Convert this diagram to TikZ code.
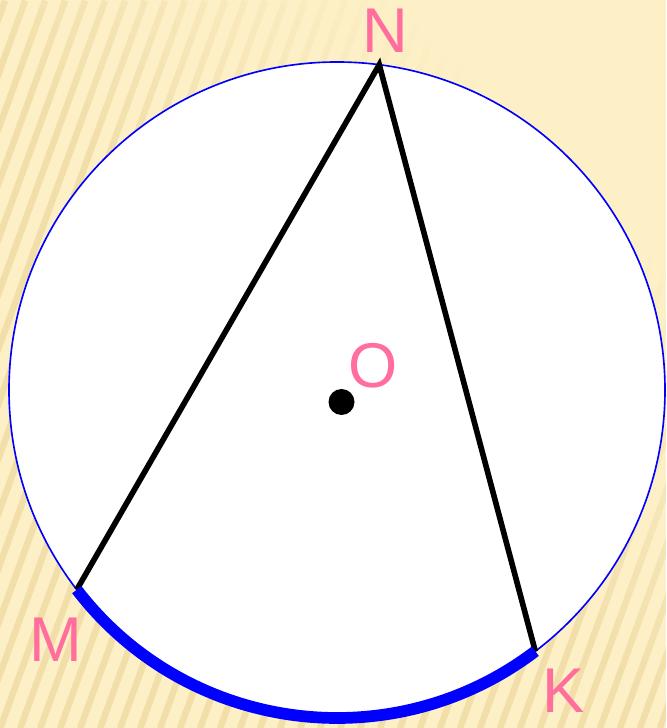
\documentclass[tikz,border=0pt]{standalone}
\usepackage{fontspec}
\setmainfont{Liberation Sans}
\usepackage{xcolor}
\definecolor{paper}{HTML}{FDEFC6}
\definecolor{stripe}{HTML}{F1DEA9}
\definecolor{label}{HTML}{FF6E9C}
\usepackage{tikz}
\usetikzlibrary{calc,fadings}
\pgfdeclarehorizontalshading{stripeshade}{100bp}{color(0bp)=(white);
  color(38bp)=(white); color(62bp)=(black); color(100bp)=(black)}
\pgfdeclarefading{stripefade}{\pgfuseshading{stripeshade}}

\begin{document}
\begin{tikzpicture}[x=0.03cm, y=0.03cm,
    every node/.style={font=\fontsize{54}{60}\selectfont, text=label,
                       inner sep=0pt},
    rim/.style={draw=blue, line width=1.4pt, fill=white},
    chord/.style={draw=black, line width=4.8pt, line join=miter},
    arcline/.style={draw=blue, line width=10pt},
    stripes/.style={draw=stripe, line width=5.5pt},
    centre/.style={circle, fill=black, minimum size=0.78cm, inner sep=0pt}]
  \fill[paper] (0,0) rectangle (666,728);
  \useasboundingbox (0,0) rectangle (666,728);
  \begin{scope}
    \clip (0,0) rectangle (666,728);
    \path[stripes, path fading=stripefade, fit fading=false,
          fading transform={shift={(442,442)}, rotate=45, scale=12}]
      foreach \s in {-280,-260,...,666} {(\s,0) -- ++(265,728)};
  \end{scope}
  \coordinate (C) at (337,338);
  \draw[rim] (C) circle[radius=328];
  \path (C) ++(82.6:328) coordinate (N);
  \path (C) ++(217.5:328) coordinate (M);
  \path (C) ++(307.2:328) coordinate (K);
  \draw[chord] (M) -- (N) -- (K);
  \draw[arcline] (M) arc[start angle=217.5, end angle=307.2, radius=328];
  \node[centre] (O) at (341.5,326) {};
  \node (lN) at (385,697) {N};
  \node (lO) at (373,362) {O};
  \node (lM) at (56,88) {M};
  \node (lK) at (564,37) {K};
\end{tikzpicture}
\end{document}
